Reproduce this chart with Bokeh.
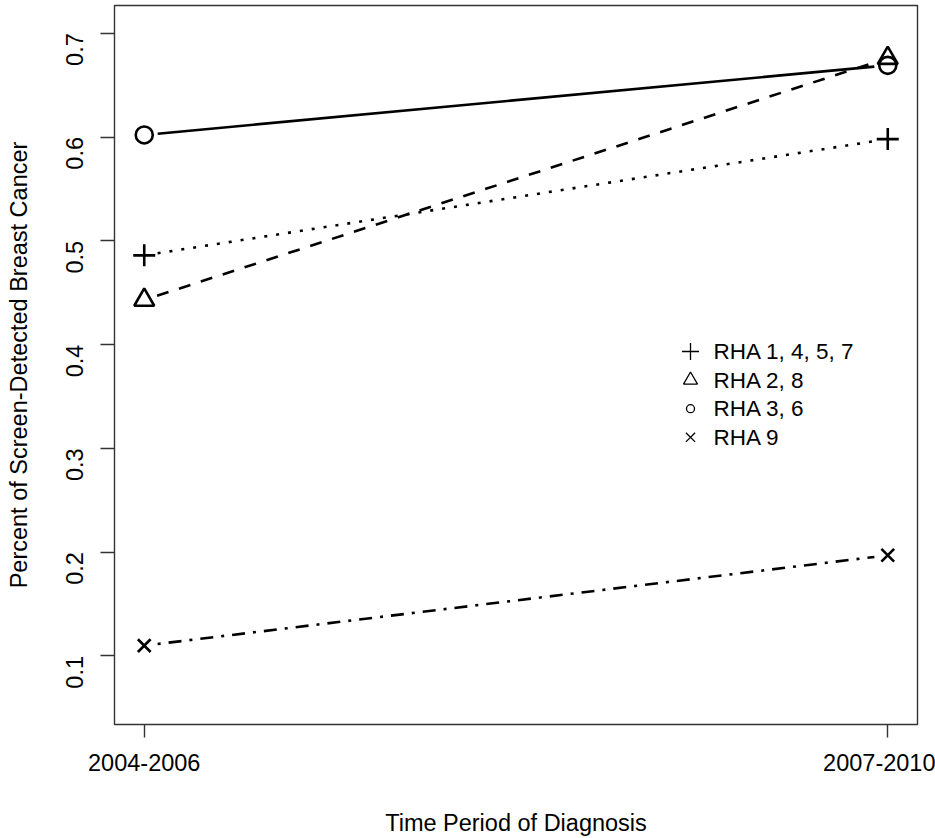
import math
from bokeh.plotting import figure
from bokeh.models import Range1d, FixedTicker
from bokeh.core.properties import value
from bokeh.embed import file_html
from bokeh.resources import INLINE

# ---- data ----
period_labels = ["2004-2006", "2007-2010"]
period_x = [1, 2]
series_labels = ["RHA 1, 4, 5, 7", "RHA 2, 8", "RHA 3, 6", "RHA 9"]
rha_1457 = [0.486, 0.598]
rha_28 = [0.443, 0.676]
rha_36 = [0.602, 0.669]
rha_9 = [0.110, 0.197]
y_ticks = [0.1, 0.2, 0.3, 0.4, 0.5, 0.6, 0.7]

# ---- layout ----
W, H = 935, 838
BL, BR, BT, BB = 114, 18, 5, 114
X0, X1 = 0.96, 2.04
Y0, Y1 = 0.0340, 0.7267
FONT = "Liberation Sans"

fw = W - BL - BR
fh = H - BT - BB
sx = fw / (X1 - X0)
sy = fh / (Y1 - Y0)

p = figure(width=W, height=H, output_backend="svg", toolbar_location=None,
           x_range=Range1d(X0, X1), y_range=Range1d(Y0, Y1),
           min_border_left=BL, min_border_right=BR,
           min_border_top=BT, min_border_bottom=BB)
p.xgrid.visible = False
p.ygrid.visible = False
p.outline_line_color = "#333333"
p.outline_line_width = 1.4
p.background_fill_color = "white"
p.border_fill_color = "white"

for ax in (p.xaxis[0], p.yaxis[0]):
    ax.axis_line_color = None
    ax.major_tick_in = 0
    ax.minor_tick_line_color = None
    ax.major_tick_line_color = "#333333"
    ax.major_tick_line_width = 1.4
    ax.major_label_text_font = FONT
    ax.major_label_text_font_size = "23.5px"
    ax.major_label_text_color = "black"
    ax.axis_label_text_font = FONT
    ax.axis_label_text_font_size = "23.5px"
    ax.axis_label_text_font_style = "normal"
    ax.axis_label_text_color = "black"

p.xaxis.ticker = FixedTicker(ticks=period_x)
p.xaxis.major_label_overrides = {x: l for x, l in zip(period_x, period_labels)}
p.xaxis.major_tick_out = 13
p.xaxis.major_label_standoff = 16
p.xaxis.axis_label = "Time Period of Diagnosis"
p.xaxis.axis_label_standoff = 36

p.yaxis.ticker = FixedTicker(ticks=y_ticks)
p.yaxis.major_label_overrides = {t: f"{t:.1f}" for t in y_ticks}
p.yaxis.major_tick_out = 14
p.yaxis.major_label_orientation = math.pi / 2
p.yaxis.major_label_standoff = 26
p.yaxis.axis_label = "Percent of Screen-Detected Breast Cancer"
p.yaxis.axis_label_standoff = 23

series = [
    (rha_1457, "cross", 22, "3 9"),
    (rha_28, "triangle", 20, "12 11"),
    (rha_36, "circle", 17, "solid"),
    (rha_9, "x", 18, "3 8 13 8"),
]

GAP = 13.5  # px gap between marker centre and line end (type="b")
for ys, marker, size, dash in series:
    xa, xb = period_x
    ya, yb = ys
    dxp = (xb - xa) * sx
    dyp = (yb - ya) * sy
    L = math.hypot(dxp, dyp)
    f = GAP / L
    x_start = xa + f * (xb - xa)
    y_start = ya + f * (yb - ya)
    x_end = xb - f * (xb - xa)
    y_end = yb - f * (yb - ya)
    p.line([x_start, x_end], [y_start, y_end], line_color="black",
           line_width=2.6, line_dash=dash)
    p.scatter(period_x, ys, marker=marker, size=size, fill_color=None,
              line_color="black", line_width=2.6)

# ---- legend (placed in data coordinates, like R's legend(x, y)) ----
LEG_X = X0 + (690 - BL) / sx
LEG_TX = X0 + (713 - BL) / sx
LEG_Y = Y1 - (351 - BT) / sy
ROW = 28.6 / sy
leg_sizes = [17, 14, 8, 13]
for i, ((ys, marker, size, dash), lab) in enumerate(zip(series, series_labels)):
    yy = LEG_Y - i * ROW
    p.scatter([LEG_X], [yy], marker=marker, size=leg_sizes[i], fill_color=None,
              line_color="black", line_width=1.3)
    p.text([LEG_TX], [yy], text=[lab], text_font=value(FONT),
           text_font_size="22.5px", text_baseline="middle", text_align="left",
           text_color="black")

open("out.html", "w").write(file_html(p, INLINE))
